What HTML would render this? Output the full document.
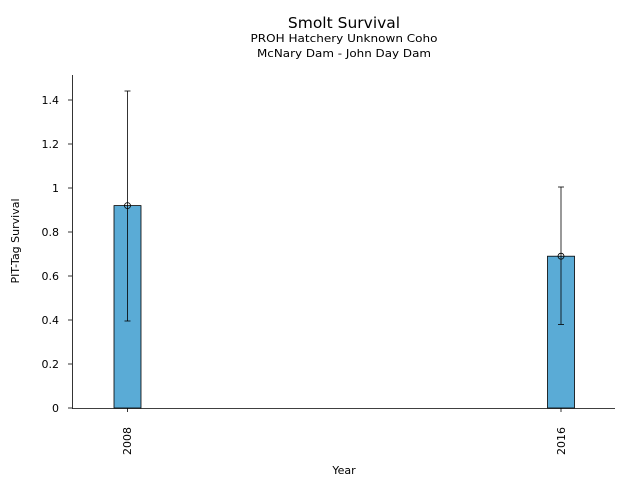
<!DOCTYPE html>
<html><head><meta charset="utf-8"><style>body{margin:0;background:#fff}</style></head>
<body>
<svg width="640" height="480" xmlns="http://www.w3.org/2000/svg" font-family="DejaVu Sans, Liberation Sans, sans-serif">
<rect width="640" height="480" fill="#fff"/>
<text x="344" y="28" font-size="15.5" text-anchor="middle">Smolt Survival</text>
<text x="344" y="42" font-size="11" text-anchor="middle" textLength="187" lengthAdjust="spacingAndGlyphs">PROH Hatchery Unknown Coho</text>
<text x="344" y="57" font-size="11" text-anchor="middle" textLength="174" lengthAdjust="spacingAndGlyphs">McNary Dam - John Day Dam</text>
<rect x="114" y="205.6" width="27" height="202.4" fill="#5aabd6" stroke="#000" stroke-width="0.8"/>
<rect x="547.5" y="256.2" width="27" height="151.8" fill="#5aabd6" stroke="#000" stroke-width="0.8"/>
<g stroke="#000" stroke-width="0.8" fill="none">
<line x1="127.5" y1="91" x2="127.5" y2="321"/><line x1="124.5" y1="91" x2="130.5" y2="91"/><line x1="124.5" y1="321" x2="130.5" y2="321"/>
<circle cx="127.5" cy="205.6" r="3"/>
<line x1="561" y1="187" x2="561" y2="324.4"/><line x1="558" y1="187" x2="564" y2="187"/><line x1="558" y1="324.4" x2="564" y2="324.4"/>
<circle cx="561" cy="256.2" r="3"/>
<line x1="72.5" y1="75" x2="72.5" y2="408.5"/><line x1="72" y1="408.5" x2="615" y2="408.5"/>
<line x1="68" y1="408" x2="72" y2="408"/><line x1="68" y1="364" x2="72" y2="364"/><line x1="68" y1="320" x2="72" y2="320"/><line x1="68" y1="276" x2="72" y2="276"/><line x1="68" y1="232" x2="72" y2="232"/><line x1="68" y1="188" x2="72" y2="188"/><line x1="68" y1="144" x2="72" y2="144"/><line x1="68" y1="100" x2="72" y2="100"/>
<line x1="127.5" y1="408" x2="127.5" y2="412"/><line x1="561" y1="408" x2="561" y2="412"/>
</g>
<g font-size="11" text-anchor="end">
<text x="59" y="412">0</text><text x="59" y="368">0.2</text><text x="59" y="324">0.4</text><text x="59" y="280">0.6</text><text x="59" y="236">0.8</text><text x="59" y="192">1</text><text x="59" y="148">1.2</text><text x="59" y="104">1.4</text>
</g>
<text font-size="11" transform="translate(131,455) rotate(-90)">2008</text>
<text font-size="11" transform="translate(565,455) rotate(-90)">2016</text>
<text x="344" y="474" font-size="11" text-anchor="middle">Year</text>
<text font-size="11" text-anchor="middle" transform="translate(19,241) rotate(-90)">PIT-Tag Survival</text>
</svg>
</body></html>
